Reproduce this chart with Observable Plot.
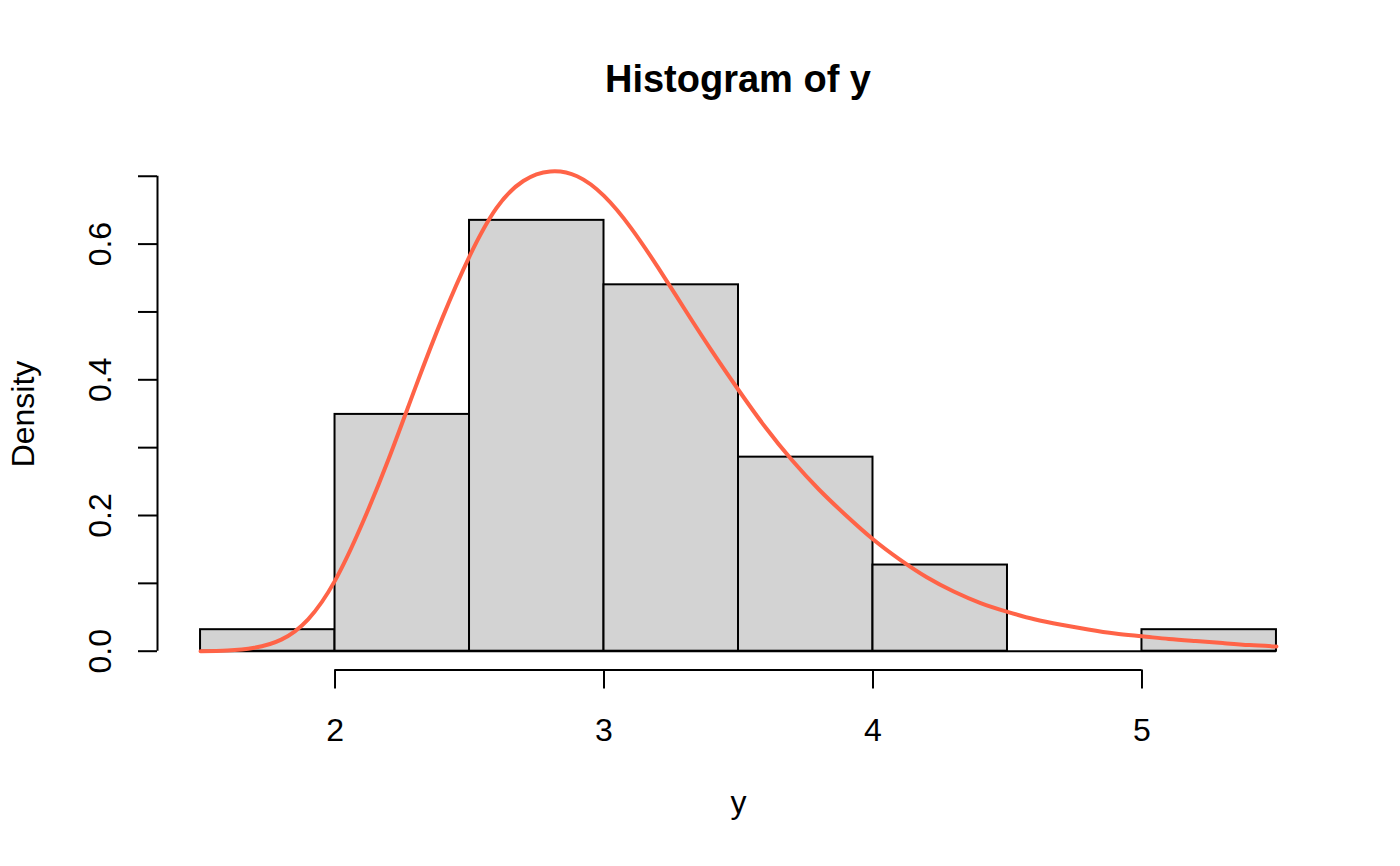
<!DOCTYPE html>
<html><head><meta charset="utf-8">
<script src="https://cdn.jsdelivr.net/npm/d3@7"></script>
<script src="https://cdn.jsdelivr.net/npm/@observablehq/plot@0.6"></script>
<style>
html,body{margin:0;padding:0;background:#fff;}
#title{box-sizing:border-box;width:1400px;height:120px;padding-top:60px;padding-left:76px;text-align:center;font:bold 38px/38px "Liberation Sans",Arial,sans-serif;color:#000;}
#chart{width:1400px;height:746px;}
</style></head><body>
<div id="title">Histogram of y</div>
<div id="chart"></div>
<script>
// Histogram bins (density scale)
const binStarts = [1.5, 2.0, 2.5, 3.0, 3.5, 4.0, 4.5, 5.0];
const binEnds   = [2.0, 2.5, 3.0, 3.5, 4.0, 4.5, 5.0, 5.5];
const binDensity = [0.0317, 0.349, 0.635, 0.540, 0.286, 0.127, 0, 0.0317];

// Fitted density curve
const curveX = [1.5,1.6,1.7,1.8,1.9,2.0,2.1,2.2,2.3,2.4,2.5,2.6,2.7,2.8,2.9,3.0,3.1,3.2,3.3,3.4,3.5,3.6,3.7,3.8,3.9,4.0,4.1,4.2,4.3,4.4,4.5,4.6,4.7,4.8,4.9,5.0,5.1,5.2,5.3,5.4,5.5];
const curveY = [0.000,0.001,0.005,0.017,0.047,0.104,0.187,0.284,0.390,0.492,0.582,0.653,0.693,0.707,0.700,0.671,0.624,0.566,0.504,0.443,0.385,0.330,0.281,0.238,0.200,0.165,0.135,0.109,0.088,0.071,0.058,0.047,0.039,0.032,0.026,0.022,0.018,0.015,0.012,0.009,0.007];

// Axes
const xTicks = [2, 3, 4, 5];
const yTicks = [0, 0.1, 0.2, 0.3, 0.4, 0.5, 0.6, 0.7];
const yLabels = [0, 0.2, 0.4, 0.6];

const bins = binStarts.map((s, i) => ({x1: s, x2: binEnds[i], density: binDensity[i]}));
const curve = curveX.map((x, i) => ({x, y: curveY[i]}));

const xDomain = [1.34, 5.66];
const yDomain = [-0.0277, 0.7269];
const font = '"Liberation Sans", Arial, sans-serif';

const chart = Plot.plot({
  width: 1400, height: 746,
  marginLeft: 157, marginRight: 81, marginTop: 37.5, marginBottom: 196.5,
  x: {domain: xDomain, label: null},
  y: {domain: yDomain, label: null},
  style: {background: "#fff", color: "#000", fontFamily: font, fontSize: "32px", overflow: "visible"},
  marks: [
    Plot.rect(bins, {x1: "x1", x2: "x2", y1: 0, y2: "density", fill: "#d3d3d3", stroke: "#000", strokeWidth: 2}),
    Plot.ruleY([0], {x1: binStarts[0], x2: binEnds[binEnds.length - 1], stroke: "#000", strokeWidth: 2}),
    Plot.line(curve, {x: "x", y: "y", stroke: "#ff6347", strokeWidth: 4, curve: "natural"}),
    Plot.ruleX([xDomain[0]], {y1: yTicks[0], y2: yTicks[yTicks.length - 1], stroke: "#000", strokeWidth: 2}),
    Plot.axisY(yTicks, {anchor: "left", tickSize: 19, tickFormat: () => "", stroke: "#000", strokeWidth: 2, label: null}),
    Plot.text(yLabels, {x: xDomain[0], y: d => d, text: d => d.toFixed(1), rotate: -90, dx: -57, fontSize: 32, fontFamily: font, textAnchor: "middle", fill: "#000"}),
    Plot.ruleY([yDomain[0]], {x1: xTicks[0], x2: xTicks[xTicks.length - 1], stroke: "#000", strokeWidth: 2}),
    Plot.axisX(xTicks, {anchor: "bottom", tickSize: 19, tickPadding: 29, fontSize: 32, fontFamily: font, stroke: "#000", strokeWidth: 2, label: null, tickFormat: d => String(d)}),
    Plot.text(["Density"], {frameAnchor: "left", text: d => d, rotate: -90, dx: -134, textAnchor: "middle", fontSize: 32, fontFamily: font, fill: "#000"}),
    Plot.text(["y"], {frameAnchor: "bottom", text: d => d, lineAnchor: "bottom", dy: 142.5, fontSize: 32, fontFamily: font, fill: "#000"})
  ]
});
document.getElementById("chart").appendChild(chart);
</script>
</body></html>
